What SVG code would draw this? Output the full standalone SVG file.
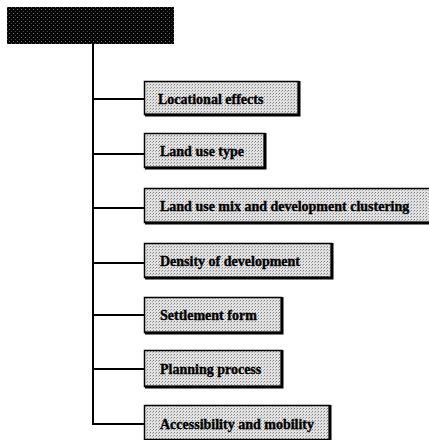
<svg xmlns="http://www.w3.org/2000/svg" width="429" height="440" viewBox="0 0 429 440">
  <defs>
    <!-- halftone screen for the branch boxes -->
    <pattern id="screen" width="3" height="3" patternUnits="userSpaceOnUse">
      <rect width="3" height="3" fill="#e2e2e2"/>
      <rect x="0" y="0" width="1" height="1" fill="#7f7f7f"/>
      <rect x="2" y="1" width="1" height="1" fill="#ababab"/>
    </pattern>
    <!-- speckled screen for the dark heading box -->
    <pattern id="dark" width="4" height="4" patternUnits="userSpaceOnUse">
      <rect width="4" height="4" fill="#050505"/>
      <rect x="1" y="1" width="1" height="1" fill="#7a7a7a"/>
      <rect x="3" y="3" width="1" height="1" fill="#4a4a4a"/>
    </pattern>
  </defs>
  <style>
    .box { fill: url(#screen); stroke: #000; stroke-width: 1.5; }
    .shade { fill: none; stroke: #000; stroke-width: 3; }
    .lbl { font-family: "Liberation Serif", "Times New Roman", serif; font-weight: bold; font-size: 14px; fill: #000; stroke: #000; stroke-width: 0.35; }
    .wire { fill: none; stroke: #000; stroke-width: 2; }
  </style>
  <rect width="429" height="440" fill="#fff"/>

  <g id="connectors">
    <line class="wire" x1="93" y1="44" x2="93" y2="424"/>
    <line class="wire" x1="92" y1="99" x2="144" y2="99"/>
    <line class="wire" x1="92" y1="154" x2="144" y2="154"/>
    <line class="wire" x1="92" y1="208" x2="144" y2="208"/>
    <line class="wire" x1="92" y1="263" x2="144" y2="263"/>
    <line class="wire" x1="92" y1="315" x2="144" y2="315"/>
    <line class="wire" x1="92" y1="369" x2="144" y2="369"/>
    <line class="wire" x1="92" y1="424" x2="144" y2="424"/>
  </g>

  <g id="heading">
    <rect x="7" y="7" width="167" height="37" fill="url(#dark)"/>
  </g>

  <g id="locational-effects">
    <rect class="box" x="144.5" y="81.5" width="154" height="33"/>
    <polyline class="shade" points="299,81 299,115 145,115"/>
    <text class="lbl" x="158" y="103.5">Locational effects</text>
  </g>

  <g id="land-use-type">
    <rect class="box" x="144.5" y="133.5" width="120" height="34"/>
    <polyline class="shade" points="265,133 265,168 145,168"/>
    <text class="lbl" x="160" y="156">Land use type</text>
  </g>

  <g id="land-use-mix">
    <rect class="box" x="144.5" y="188.5" width="286" height="34"/>
    <polyline class="shade" points="430,223 145,223"/>
    <text class="lbl" x="160" y="210.5">Land use mix and development clustering</text>
  </g>

  <g id="density">
    <rect class="box" x="144.5" y="243.5" width="187" height="34"/>
    <polyline class="shade" points="332,243 332,278 145,278"/>
    <text class="lbl" x="160" y="265.5">Density of development</text>
  </g>

  <g id="settlement-form">
    <rect class="box" x="144.5" y="297.5" width="137" height="35"/>
    <polyline class="shade" points="282,297 282,333 145,333"/>
    <text class="lbl" x="160" y="320">Settlement form</text>
  </g>

  <g id="planning-process">
    <rect class="box" x="144.5" y="350.5" width="137" height="36"/>
    <polyline class="shade" points="282,350 282,387 145,387"/>
    <text class="lbl" x="160" y="373.5">Planning process</text>
  </g>

  <g id="accessibility">
    <rect class="box" x="144.5" y="405.5" width="185" height="34"/>
    <polyline class="shade" points="330,405 330,440"/>
    <text class="lbl" x="160" y="428.5">Accessibility and mobility</text>
  </g>
</svg>
